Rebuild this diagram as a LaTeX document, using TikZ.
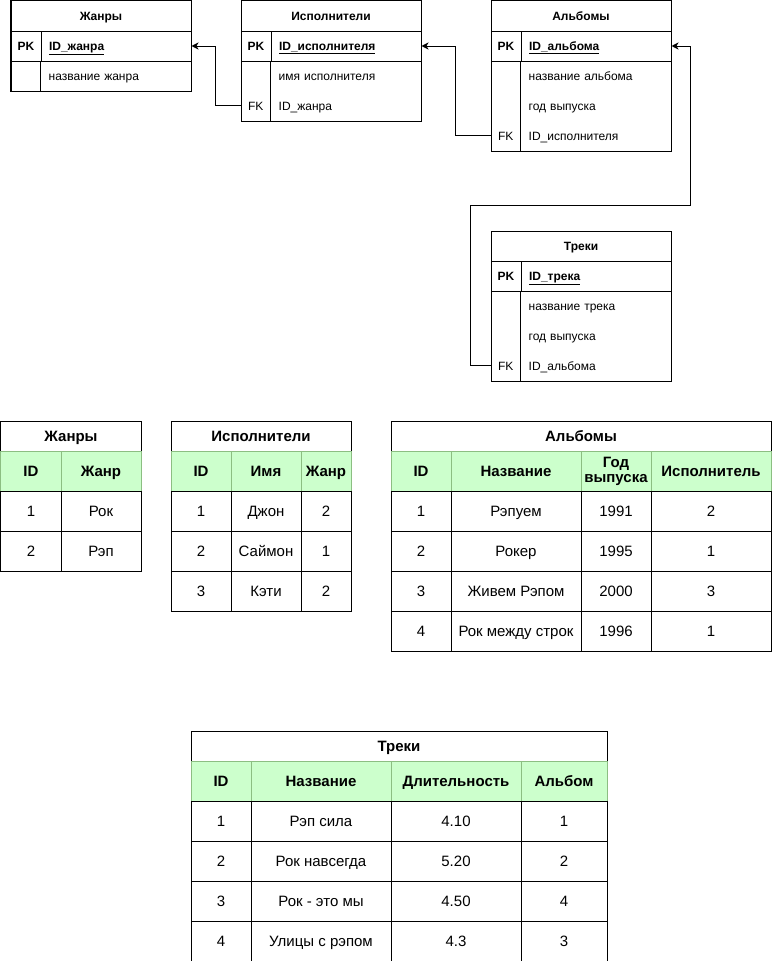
\documentclass[tikz,border=0pt]{standalone}
\usepackage{fontspec}
\setmainfont{Liberation Sans}
\usetikzlibrary{arrows.meta}

\definecolor{hdrfill}{HTML}{CCFFCC}
\definecolor{hdrline}{RGB}{140,190,130}

\tikzset{
  tbox/.style={draw, line width=1pt, inner sep=0pt, anchor=north west},
  % ER diagram parts
  erfont/.style={font=\fontsize{12}{14}\selectfont, text height=8.6pt, text depth=0pt},
  ertitle/.style={tbox, erfont, minimum width=180pt, minimum height=30pt, font=\fontsize{12}{14}\selectfont\bfseries},
  erkey/.style={erfont, inner sep=0pt, anchor=north west, minimum width=30pt, minimum height=30pt},
  erfield/.style={erfont, inner xsep=8pt, inner ysep=0pt, anchor=north west, text width=134pt, align=left, minimum height=30pt},
  erpk/.style={draw, line width=1pt, font=\fontsize{12}{14}\selectfont\bfseries},
  % data tables
  tabfont/.style={font=\fontsize{15}{17}\selectfont, text height=10.8pt, text depth=0pt},
  tabtitle/.style={tbox, tabfont, minimum height=30pt, font=\fontsize{15}{17}\selectfont\bfseries},
  colhead/.style={tbox, tabfont, draw=hdrline, fill=hdrfill, minimum height=40pt, align=center, font=\fontsize{15}{15}\selectfont\bfseries},
  tcell/.style={tbox, tabfont, minimum height=40pt},
  link/.style={draw, line width=1pt, -{Stealth[length=7pt,width=7pt,inset=2pt]}}
}

\begin{document}
\begin{tikzpicture}[x=1pt, y=-1pt]

    \useasboundingbox (-0.5,-0.5) rectangle (770.5,960.5);

    % --- ER diagram: Жанры ---
    \node[tbox, minimum width=180pt, minimum height=90pt] (genre) at (10,0) {};
    \node[ertitle] (genre-title) at (10,0) {Жанры};
    \node[erkey, erpk] (genre-pkkey) at (10,30) {PK};
    \node[erfield, erpk] (genre-pk) at (40,30) {\underline{ID\_жанра}};
    \node[erfield] (genre-name) at (40,60) {название жанра};
    \draw[line width=1pt] (genre-pk.south west) -- (genre-pk.south west |- genre.south);

    % --- ER diagram: Исполнители ---
    \node[tbox, minimum width=180pt, minimum height=120pt] (artist) at (240,0) {};
    \node[ertitle] (artist-title) at (240,0) {Исполнители};
    \node[erkey, erpk] (artist-pkkey) at (240,30) {PK};
    \node[erfield, erpk] (artist-pk) at (270,30) {\underline{ID\_исполнителя}};
    \node[erfield] (artist-name) at (270,60) {имя исполнителя};
    \node[erkey] (artist-fk) at (240,90) {FK};
    \node[erfield] (artist-genre) at (270,90) {ID\_жанра};
    \draw[line width=1pt] (artist-pk.south west) -- (artist-pk.south west |- artist.south);

    % --- ER diagram: Альбомы ---
    \node[tbox, minimum width=180pt, minimum height=150pt] (album) at (490,0) {};
    \node[ertitle] (album-title) at (490,0) {Альбомы};
    \node[erkey, erpk] (album-pkkey) at (490,30) {PK};
    \node[erfield, erpk] (album-pk) at (520,30) {\underline{ID\_альбома}};
    \node[erfield] (album-name) at (520,60) {название альбома};
    \node[erfield] (album-year) at (520,90) {год выпуска};
    \node[erkey] (album-fk) at (490,120) {FK};
    \node[erfield] (album-artist) at (520,120) {ID\_исполнителя};
    \draw[line width=1pt] (album-pk.south west) -- (album-pk.south west |- album.south);

    % --- ER diagram: Треки ---
    \node[tbox, minimum width=180pt, minimum height=150pt] (track) at (490,230) {};
    \node[ertitle] (track-title) at (490,230) {Треки};
    \node[erkey, erpk] (track-pkkey) at (490,260) {PK};
    \node[erfield, erpk] (track-pk) at (520,260) {\underline{ID\_трека}};
    \node[erfield] (track-name) at (520,290) {название трека};
    \node[erfield] (track-year) at (520,320) {год выпуска};
    \node[erkey] (track-fk) at (490,350) {FK};
    \node[erfield] (track-album) at (520,350) {ID\_альбома};
    \draw[line width=1pt] (track-pk.south west) -- (track-pk.south west |- track.south);

    % --- Foreign key links ---
    \coordinate (track-bend) at (690,205);
    \draw[link] (artist-fk.west) -- ++(-25,0) |- (genre-pk.east);
    \draw[link] (album-fk.west) -- ++(-35,0) |- (artist-pk.east);
    \draw[link] (track-fk.west) -- ++(-20,0) |- (track-bend) |- (album-pk.east);

    % --- Table: Жанры ---
    \node[tabtitle, minimum width=140pt] (g-title) at (0,420) {Жанры};
    \node[colhead, minimum width=60pt] (g-h1) at (0,450) {ID};
    \node[colhead, minimum width=80pt] (g-h2) at (60,450) {Жанр};
    \foreach \id/\name [count=\r] in {1/Рок, 2/Рэп} {
        \node[tcell, minimum width=60pt] (g\r-id) at (0,{450+40*\r}) {\id};
        \node[tcell, minimum width=80pt] (g\r-name) at (60,{450+40*\r}) {\name};
    }

    % --- Table: Исполнители ---
    \node[tabtitle, minimum width=180pt] (a-title) at (170,420) {Исполнители};
    \node[colhead, minimum width=60pt] (a-h1) at (170,450) {ID};
    \node[colhead, minimum width=70pt] (a-h2) at (230,450) {Имя};
    \node[colhead, minimum width=50pt] (a-h3) at (300,450) {Жанр};
    \foreach \id/\name/\genre [count=\r] in {1/Джон/2, 2/Саймон/1, 3/Кэти/2} {
        \node[tcell, minimum width=60pt] (a\r-id) at (170,{450+40*\r}) {\id};
        \node[tcell, minimum width=70pt] (a\r-name) at (230,{450+40*\r}) {\name};
        \node[tcell, minimum width=50pt] (a\r-genre) at (300,{450+40*\r}) {\genre};
    }

    % --- Table: Альбомы ---
    \node[tabtitle, minimum width=380pt] (al-title) at (390,420) {Альбомы};
    \node[colhead, minimum width=60pt] (al-h1) at (390,450) {ID};
    \node[colhead, minimum width=130pt] (al-h2) at (450,450) {Название};
    \node[colhead, minimum width=70pt, text height=, text depth=] (al-h3) at (580,450) {Год\\выпуска};
    \node[colhead, minimum width=120pt] (al-h4) at (650,450) {Исполнитель};
    \foreach \id/\title/\year/\artist [count=\r] in {1/Рэпуем/1991/2, 2/Рокер/1995/1, 3/Живем Рэпом/2000/3, 4/Рок между строк/1996/1} {
        \node[tcell, minimum width=60pt] (al\r-id) at (390,{450+40*\r}) {\id};
        \node[tcell, minimum width=130pt] (al\r-title) at (450,{450+40*\r}) {\title};
        \node[tcell, minimum width=70pt] (al\r-year) at (580,{450+40*\r}) {\year};
        \node[tcell, minimum width=120pt] (al\r-artist) at (650,{450+40*\r}) {\artist};
    }

    % --- Table: Треки ---
    \node[tabtitle, minimum width=416pt] (t-title) at (190,730) {Треки};
    \node[colhead, minimum width=60pt] (t-h1) at (190,760) {ID};
    \node[colhead, minimum width=140pt] (t-h2) at (250,760) {Название};
    \node[colhead, minimum width=130pt] (t-h3) at (390,760) {Длительность};
    \node[colhead, minimum width=86pt] (t-h4) at (520,760) {Альбом};
    \foreach \id/\title/\len/\album [count=\r] in {1/Рэп сила/4.10/1, 2/Рок навсегда/5.20/2, 3/Рок - это мы/4.50/4, 4/Улицы с рэпом/4.3/3} {
        \node[tcell, minimum width=60pt] (t\r-id) at (190,{760+40*\r}) {\id};
        \node[tcell, minimum width=140pt] (t\r-title) at (250,{760+40*\r}) {\title};
        \node[tcell, minimum width=130pt] (t\r-len) at (390,{760+40*\r}) {\len};
        \node[tcell, minimum width=86pt] (t\r-album) at (520,{760+40*\r}) {\album};
    }

\end{tikzpicture}
\end{document}
